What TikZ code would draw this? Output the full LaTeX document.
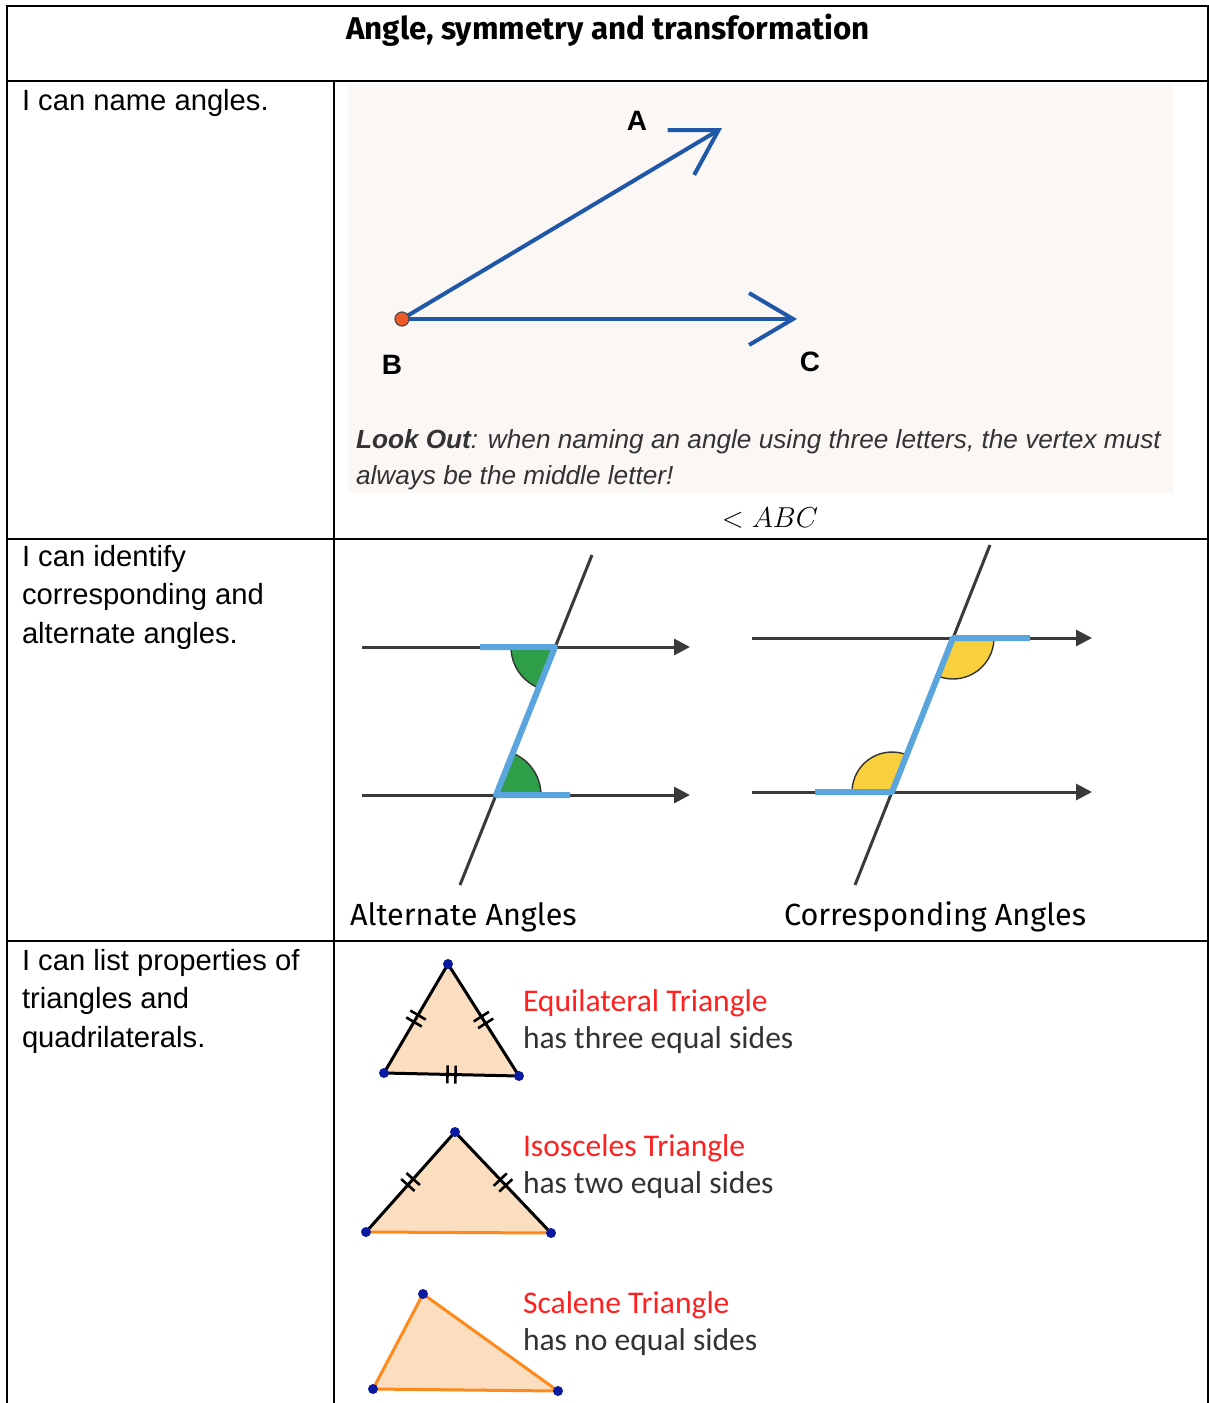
\documentclass[tikz,border=0pt]{standalone}
\usepackage{fontspec}
\setmainfont{Liberation Sans}
\newfontfamily\handfont{Fira Sans}
\newfontfamily\calfont{Carlito}
\usetikzlibrary{arrows.meta,calc}
\definecolor{paper}{HTML}{FAF7F4}
\definecolor{rayblue}{HTML}{1F58A8}
\definecolor{dotorange}{HTML}{F05A28}
\definecolor{linegray}{HTML}{3A3A3A}
\definecolor{zblue}{HTML}{5AA5DD}
\definecolor{anggreen}{HTML}{2E9E48}
\definecolor{angyellow}{HTML}{F8CF3C}
\definecolor{peach}{HTML}{FBDDC0}
\definecolor{edgeorange}{HTML}{FF8A1C}
\definecolor{vertblue}{HTML}{0A1AA0}
\definecolor{namered}{HTML}{FF2020}
\definecolor{textgray}{HTML}{333333}

\begin{document}
\begin{tikzpicture}[
  x=0.5pt,y=-0.5pt,
  every node/.style={inner sep=0pt,outer sep=0pt},
  grid/.style={line width=1.3pt,color=black},
  cell/.style={font=\fontsize{14.6}{19.25}\selectfont,align=left,anchor=base west},
  titletext/.style={font=\handfont\bfseries\fontsize{15.7}{18}\selectfont,anchor=base},
  caption/.style={font=\handfont\fontsize{15.3}{18}\selectfont,anchor=base west},
  ray/.style={line width=2pt,color=rayblue,-{Straight Barb[length=22pt,width=26pt]}},
  letter/.style={font=\fontsize{14}{16}\selectfont\bfseries,anchor=base},
  note/.style={font=\fontsize{13.1}{18}\selectfont\itshape,color=textgray,align=left,anchor=base west},
  parline/.style={line width=1.5pt,color=linegray,-{Triangle[length=8pt,width=8pt]}},
  cross/.style={line width=1.5pt,color=linegray},
  zpath/.style={line width=3pt,color=zblue,line join=round},
  arcline/.style={line width=0.7pt,color=black!80},
  side/.style={line width=1.5pt,color=black},
  oside/.style={line width=1.5pt,color=edgeorange},
  vert/.style={fill=vertblue},
  tick/.style={line width=1.3pt,color=black},
  tri/.style={font=\calfont\fontsize{15.8}{18.5}\selectfont,color=textgray,align=left,anchor=base west}
]
\useasboundingbox (0,0) rectangle (1209,1403);

% table
\draw[grid] (7,1403) -- (7,6) -- (1208,6) -- (1208,1403);
\draw[grid] (7,81) -- (1208,81);
\draw[grid] (7,539) -- (1208,539);
\draw[grid] (7,941) -- (1208,941);
\draw[grid] (334,81) -- (334,1403);

\node[titletext] (title) at (608,39) {Angle, symmetry and transformation};
\node[cell] (goal1) at (22,110) {I can name angles.};
\node[cell] (goal2) at (22,643) {I can identify\\corresponding and\\alternate angles.};
\node[cell] (goal3) at (22,1047) {I can list properties of\\triangles and\\quadrilaterals.};

% naming angles
\fill[paper] (348,85) rectangle (1173,493);
\coordinate (B) at (402,319);
\coordinate (A) at (722,128);
\coordinate (C) at (797,319);
\draw[ray] (B) -- (A);
\draw[ray] (B) -- (C);
\filldraw[fill=dotorange,draw=black!70,line width=0.6pt] (B) circle (7);
\node[letter] (labA) at (637,130) {A};
\node[letter] (labB) at (392,374) {B};
\node[letter] (labC) at (810,371) {C};
\node[note] (lookout) at (356,484) {{\bfseries Look Out}: when naming an angle using three letters, the vertex must\\always be the middle letter!};
\node[anchor=base,font=\fontsize{14}{16}\selectfont] (abc) at (770,527) {$<ABC$};

% alternate angles
\coordinate (P1) at (555,647);
\coordinate (P2) at (496,795);
\draw[parline] (362,647) -- (690,647);
\draw[parline] (362,795) -- (690,795);
\draw[cross] (592,555) -- (460,885);
\fill[anggreen] (P1) -- ++(180:44) arc[start angle=180,end angle=112.1,radius=44] -- cycle;
\draw[arcline] (P1) ++(180:44) arc[start angle=180,end angle=112.1,radius=44];
\fill[anggreen] (P2) -- ++(0:45) arc[start angle=0,end angle=-67.9,radius=45] -- cycle;
\draw[arcline] (P2) ++(0:45) arc[start angle=0,end angle=-67.9,radius=45];
\draw[zpath] (480,647) -- (P1) -- (P2) -- (570,795);
\node[caption] (altcap) at (350,925) {Alternate Angles};

% corresponding angles
\coordinate (Q1) at (953,638);
\coordinate (Q2) at (892,792);
\draw[parline] (752,638) -- (1092,638);
\draw[parline] (752,792) -- (1092,792);
\draw[cross] (990,545) -- (855,885);
\fill[angyellow] (Q1) -- ++(0:41) arc[start angle=0,end angle=111.6,radius=41] -- cycle;
\draw[arcline] (Q1) ++(0:41) arc[start angle=0,end angle=111.6,radius=41];
\fill[angyellow] (Q2) -- ++(180:40) arc[start angle=180,end angle=291.6,radius=40] -- cycle;
\draw[arcline] (Q2) ++(180:40) arc[start angle=180,end angle=291.6,radius=40];
\draw[zpath] (815,792) -- (Q2) -- (Q1) -- (1030,638);
\node[caption] (corcap) at (784,925) {Corresponding Angles};

% triangles
\coordinate (E1) at (448,964);
\coordinate (E2) at (384,1073);
\coordinate (E3) at (519,1076);
\coordinate (I1) at (455,1132);
\coordinate (I2) at (366,1232);
\coordinate (I3) at (551,1233);
\coordinate (S1) at (423,1294);
\coordinate (S2) at (373,1389);
\coordinate (S3) at (558,1391);
\fill[peach] (E1) -- (E2) -- (E3) -- cycle;
\fill[peach] (I1) -- (I2) -- (I3) -- cycle;
\fill[peach] (S1) -- (S2) -- (S3) -- cycle;
\draw[side,line join=round] (E1) -- (E2) -- (E3) -- cycle;
\draw[oside] (I2) -- (I3);
\draw[side,line join=round] (I2) -- (I1) -- (I3);
\draw[oside,line join=round] (S1) -- (S2) -- (S3) -- cycle;
\foreach \a/\b in {E1/E2,E2/E3,E3/E1,I1/I2,I1/I3}{
  \coordinate (mid) at ($(\a)!0.5!(\b)$);
  \foreach \s in {-2pt,2pt}{
    \coordinate (k) at ($(mid)!\s!(\b)$);
    \draw[tick] ($(k)!4.5pt!90:(\b)$) -- ($(k)!4.5pt!-90:(\b)$);
  }
}
\foreach \v in {E1,E2,E3,I1,I2,I3,S1,S2,S3}
  \fill[vert] (\v) circle (5);
\node[tri] (equi) at (523,1048) {\textcolor{namered}{Equilateral Triangle}\\has three equal sides};
\node[tri] (isos) at (523,1193) {\textcolor{namered}{Isosceles Triangle}\\has two equal sides};
\node[tri] (scal) at (523,1350) {\textcolor{namered}{Scalene Triangle}\\has no equal sides};
\end{tikzpicture}
\end{document}
